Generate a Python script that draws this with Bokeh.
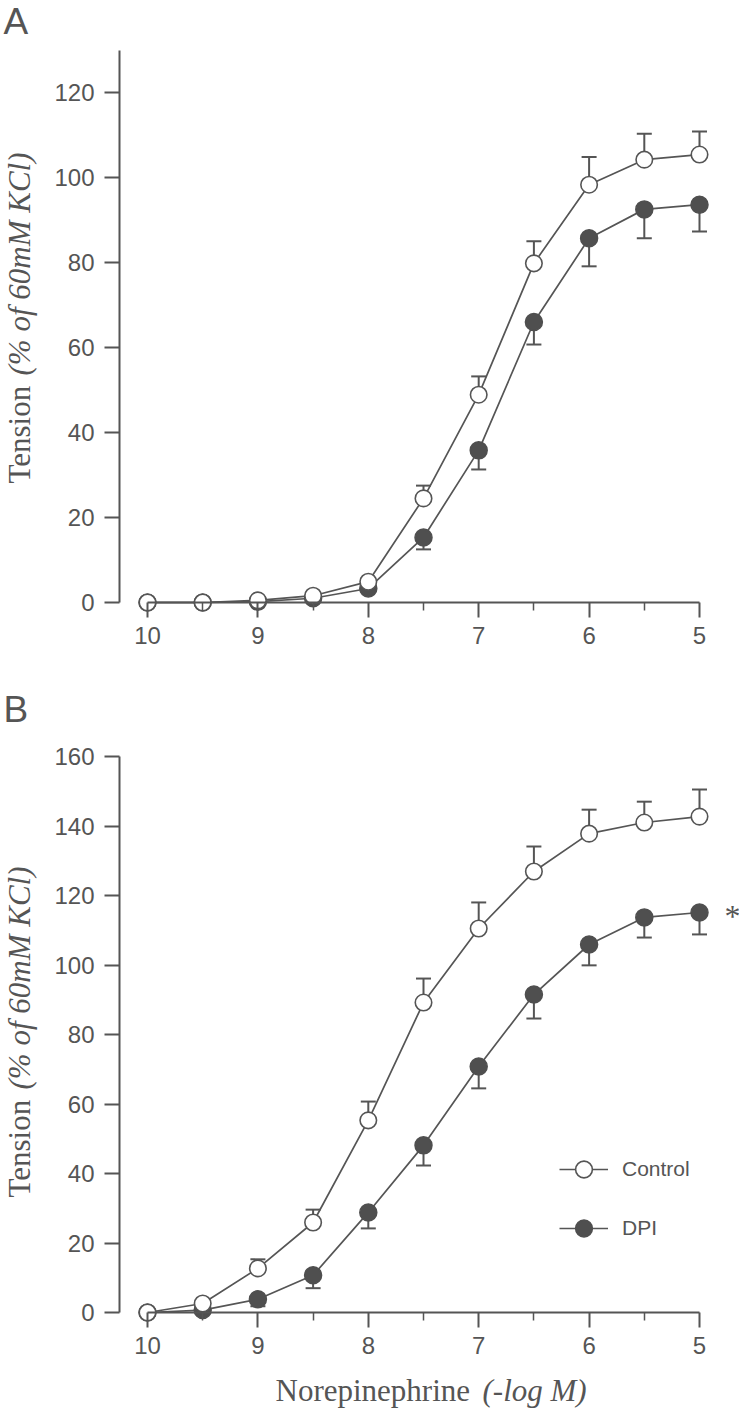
import math
from bokeh.plotting import figure
from bokeh.models import (Range1d, FixedTicker, Label, Whisker, TeeHead,
                          ColumnDataSource, Legend, LegendItem)
from bokeh.layouts import column
from bokeh.embed import file_html
from bokeh.resources import INLINE

# ---------------- data ----------------
conc = [10, 9.5, 9, 8.5, 8, 7.5, 7, 6.5, 6, 5.5, 5]
x_major_ticks = [10, 9, 8, 7, 6, 5]
x_minor_ticks = [9.5, 8.5, 7.5, 6.5, 5.5]

a_control = [0, 0, 0.5, 1.6, 4.9, 24.5, 48.9, 79.8, 98.3, 104.2, 105.4]
a_control_err = [0, 0, 0, 0, 0.8, 3.0, 4.3, 5.2, 6.5, 6.1, 5.4]
a_dpi = [0, 0, 0.2, 1.0, 3.3, 15.3, 35.8, 66.0, 85.7, 92.5, 93.6]
a_dpi_err = [0, 0, 0, 0, 0.6, 2.8, 4.5, 5.3, 6.6, 6.8, 6.3]
a_yticks = [0, 20, 40, 60, 80, 100, 120]

b_control = [0, 2.6, 12.7, 25.9, 55.3, 89.2, 110.5, 126.9, 137.8, 141.0, 142.7]
b_control_err = [0, 0, 2.6, 3.7, 5.4, 6.9, 7.5, 7.2, 6.9, 6.0, 7.8]
b_dpi = [0, 0.7, 3.8, 10.7, 28.8, 48.1, 70.8, 91.5, 105.9, 113.7, 115.1]
b_dpi_err = [0, 0, 2.0, 3.7, 4.6, 5.8, 6.3, 6.9, 6.0, 5.8, 6.3]
b_yticks = [0, 20, 40, 60, 80, 100, 120, 140, 160]

series_names = ["Control", "DPI"]

# ---------------- style / layout ----------------
INK = "#555555"
FILL = "#4f4f4f"
SANS = "Liberation Sans"
SERIF = "Liberation Serif"

W = 739
PX_PER_X = 110.4
X10_PX = 147.0      # canvas x of conc = 10
YAXIS_PX = 119.0    # canvas x of the y axis


def px_to_x(px):
    return 10 - (px - X10_PX) / PX_PER_X


def make_panel(ctrl, ctrl_err, dpi, dpi_err, yticks, ytop, height, zero_py, ppu):
    ymax = zero_py / ppu
    ymin = -(height - zero_py) / ppu
    p = figure(width=W, height=height, min_border=0,
               min_border_left=0, min_border_right=0,
               min_border_top=0, min_border_bottom=0,
               x_range=Range1d(px_to_x(0), px_to_x(W)),
               y_range=Range1d(ymin, ymax),
               output_backend="svg", toolbar_location=None,
               background_fill_color="white", border_fill_color="white")
    p.grid.visible = False
    p.outline_line_color = None

    xa = p.xaxis[0]
    xa.fixed_location = 0
    xa.bounds = (5, 10)
    xa.ticker = FixedTicker(ticks=x_major_ticks, minor_ticks=x_minor_ticks)
    xa.axis_line_color = INK
    xa.axis_line_width = 2
    xa.major_tick_line_color = INK
    xa.major_tick_line_width = 2
    xa.major_tick_out = 15
    xa.major_tick_in = 0
    xa.minor_tick_line_color = INK
    xa.minor_tick_line_width = 1.5
    xa.minor_tick_out = 8
    xa.minor_tick_in = 0
    xa.major_label_text_font = SANS
    xa.major_label_text_font_size = "24px"
    xa.major_label_text_color = INK
    xa.major_label_standoff = 9

    ya = p.yaxis[0]
    ya.fixed_location = px_to_x(YAXIS_PX)
    ya.bounds = (0, ytop)
    ya.ticker = FixedTicker(ticks=yticks)
    ya.axis_line_color = INK
    ya.axis_line_width = 2
    ya.major_tick_line_color = INK
    ya.major_tick_line_width = 2
    ya.major_tick_out = 15
    ya.major_tick_in = 0
    ya.minor_tick_line_color = None
    ya.major_label_text_font = SANS
    ya.major_label_text_font_size = "24px"
    ya.major_label_text_color = INK
    ya.major_label_standoff = 10

    src_c = ColumnDataSource(dict(x=conc, y=ctrl,
                                  up=[v + e for v, e in zip(ctrl, ctrl_err)]))
    src_d = ColumnDataSource(dict(x=conc, y=dpi,
                                  lo=[v - e for v, e in zip(dpi, dpi_err)]))

    wc = Whisker(base="x", lower="y", upper="up", dimension="height",
                 source=src_c, line_color=INK, line_width=2, level="underlay",
                 lower_head=None,
                 upper_head=TeeHead(size=15, line_color=INK, line_width=2))
    wd = Whisker(base="x", lower="lo", upper="y", dimension="height",
                 source=src_d, line_color=INK, line_width=2, level="underlay",
                 upper_head=None,
                 lower_head=TeeHead(size=15, line_color=INK, line_width=2))
    p.add_layout(wc)
    p.add_layout(wd)

    ld = p.line("x", "y", source=src_d, line_color=INK, line_width=1.7)
    lc = p.line("x", "y", source=src_c, line_color=INK, line_width=1.7)
    sd = p.scatter("x", "y", source=src_d, marker="circle", size=17,
                   fill_color=FILL, line_color=FILL, line_width=1.5)
    sc = p.scatter("x", "y", source=src_c, marker="circle", size=16.5,
                   fill_color="white", line_color=INK, line_width=1.6)
    return p, (lc, sc), (ld, sd)


def to_y(py, zero_py, ppu):
    return (zero_py - py) / ppu


def ylabel(p, zero_py, ppu, start_py):
    xc = px_to_x(19)
    p.add_layout(Label(x=xc, y=to_y(start_py, zero_py, ppu), text="Tension",
                       angle=math.pi / 2, text_align="left",
                       text_baseline="middle", text_font=SERIF,
                       text_font_size="31px", text_color=INK))
    p.add_layout(Label(x=xc, y=to_y(start_py - 108, zero_py, ppu),
                       text="(% of 60mM KCl)", angle=math.pi / 2,
                       text_align="left", text_baseline="middle",
                       text_font=SERIF, text_font_style="italic",
                       text_font_size="31px", text_color=INK))


# ---------------- panel A (canvas rows 0..665) ----------------
HA = 665
ZA, PPU_A = 602, 4.25
pa, _, _ = make_panel(a_control, a_control_err, a_dpi, a_dpi_err, a_yticks, 130,
                      height=HA, zero_py=ZA, ppu=PPU_A)
pa.add_layout(Label(x=px_to_x(3), y=to_y(21, ZA, PPU_A), text="A",
                    text_font=SANS, text_font_size="37px", text_color=INK,
                    text_align="left", text_baseline="middle"))
ylabel(pa, ZA, PPU_A, 483)

# ---------------- panel B (canvas rows 665..1412) ----------------
HB = 1412 - HA
ZB, PPU_B = 1312 - HA, 3.475
pb, (lc, sc), (ld, sd) = make_panel(b_control, b_control_err, b_dpi, b_dpi_err,
                                    b_yticks, 160, height=HB, zero_py=ZB, ppu=PPU_B)
pb.add_layout(Label(x=px_to_x(3), y=to_y(709 - HA, ZB, PPU_B), text="B",
                    text_font=SANS, text_font_size="37px", text_color=INK,
                    text_align="left", text_baseline="middle"))
ylabel(pb, ZB, PPU_B, 1197 - HA)

pb.add_layout(Label(x=px_to_x(275), y=to_y(1390 - HA, ZB, PPU_B),
                    text="Norepinephrine", text_font=SERIF,
                    text_font_size="31px", text_color=INK,
                    text_align="left", text_baseline="middle"))
pb.add_layout(Label(x=px_to_x(482), y=to_y(1390 - HA, ZB, PPU_B),
                    text="(-log M)", text_font=SERIF, text_font_style="italic",
                    text_font_size="31px", text_color=INK,
                    text_align="left", text_baseline="middle"))
pb.add_layout(Label(x=px_to_x(732), y=to_y(915 - HA, ZB, PPU_B), text="*",
                    text_font=SERIF, text_font_size="32px", text_color=INK,
                    text_align="center", text_baseline="middle"))

legend = Legend(items=[LegendItem(label=series_names[0], renderers=[lc, sc]),
                       LegendItem(label=series_names[1], renderers=[ld, sd])],
                location=(559, 1412 - 1249), orientation="vertical",
                glyph_width=49, glyph_height=42, label_height=42,
                label_standoff=14, spacing=17, padding=0, margin=0,
                label_text_font=SANS, label_text_font_size="21px",
                label_text_color=INK, border_line_color=None,
                background_fill_alpha=0)
pb.add_layout(legend)

layout = column(pa, pb, spacing=0)
open("out.html", "w").write(file_html(layout, INLINE))
